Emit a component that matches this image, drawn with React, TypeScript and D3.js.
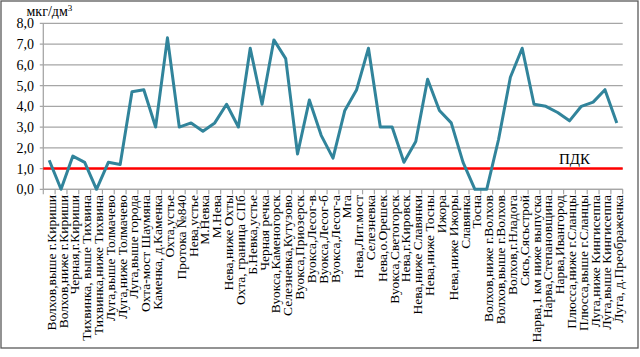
import React from 'react';
import * as d3 from 'd3';

const categories: string[] = [
  'Волхов,выше г.Кириши',
  'Волхов,ниже г.Кириши',
  'Черная,г.Кириши',
  'Тихвинка, выше Тихвина',
  'Тихвинка,ниже Тихвина',
  'Луга,выше Толмачево',
  'Луга,ниже Толмачево',
  'Луга,выше города',
  'Охта-мост Шаумяна',
  'Каменка, д.Каменка',
  'Охта,устье',
  'Протока №840',
  'Нева,устье',
  'М.Невка',
  'М.Нева',
  'Нева,ниже Охты',
  'Охта, граница СПб',
  'Б.Невка,устье',
  'Черная речка',
  'Вуокса,Каменогорск',
  'Селезневка,Кутузово',
  'Вуокса,Приозерск',
  'Вуокса,Лесог-в',
  'Вуокса,Лесог-б',
  'Вуокса,Лесог-а',
  'Мга',
  'Нева,Лит.мост',
  'Селезневка',
  'Нева,о.Орешек',
  'Вуокса,Светогорск',
  'Нева,г.Кировск',
  'Нева,ниже Славянки',
  'Нева,ниже Тосны',
  'Ижора',
  'Нева,ниже Ижоры',
  'Славянка',
  'Тосна',
  'Волхов,ниже г.Волхов',
  'Волхов,выше г.Волхов',
  'Волхов,г.Нладога',
  'Сясь,Сясьстрой',
  'Нарва,1 км ниже выпуска',
  'Нарва,Степановщина',
  'Нарва,Ивангород',
  'Плюсса,ниже г.Сланцы',
  'Плюсса,выше г.Сланцы',
  'Луга,ниже Кингисеппа',
  'Луга,выше Кингисеппа',
  'Луга, д.Преображенка',
];

const values: number[] = [
  1.4, 0, 1.6, 1.3, 0, 1.3, 1.2, 4.7, 4.8, 3.0,
  7.3, 3.0, 3.2, 2.8, 3.2, 4.1, 3.0, 6.8, 4.1, 7.2,
  6.3, 1.7, 4.3, 2.6, 1.5, 3.8, 4.8, 6.8, 3.0, 3.0,
  1.3, 2.3, 5.3, 3.8, 3.2, 1.3, 0, 0, 2.4, 5.4,
  6.8, 4.1, 4.0, 3.7, 3.3, 4.0, 4.2, 4.8, 3.2,
];

const yTicks: number[] = [0, 1, 2, 3, 4, 5, 6, 7, 8];
const pdkValue = 1.0;
const pdkLabel = 'ПДК';
const unitLabel = 'мкг/дм';

const FONT = '"Liberation Serif", "Times New Roman", serif';

export default function App() {
  const W = 640;
  const H = 357;
  const left = 43.3;
  const right = 622.7;
  const top = 23.3;
  const bottom = 189.3;

  const x = d3.scaleBand<string>().domain(categories).range([left, right]).padding(0);
  const y = d3.scaleLinear().domain([0, 8]).range([bottom, top]);
  const cx = (i: number) => (x(categories[i]) as number) + x.bandwidth() / 2;

  const line = d3
    .line<number>()
    .x((_, i) => cx(i))
    .y((d) => y(d));

  const fmt = (v: number) => d3.format('.1f')(v).replace('.', ',');

  const boundaries = d3.range(categories.length + 1).map((i) => left + i * x.bandwidth());

  return (
    <svg
      width={W}
      height={H}
      style={{ position: 'absolute', left: 0, top: 0, background: '#fff' }}
      fontFamily={FONT}
    >
      <rect x={0} y={0} width={W} height={H} fill="#fff" />
      <rect x={1} y={1} width={637} height={347} fill="none" stroke="#595959" strokeWidth={1.3} />

      {yTicks.map((t) => (
        <line
          key={'g' + t}
          x1={left - 3.5}
          x2={right}
          y1={y(t)}
          y2={y(t)}
          stroke="#a6a6a6"
          strokeWidth={1.3}
        />
      ))}

      <line x1={left} x2={left} y1={top} y2={bottom} stroke="#a6a6a6" strokeWidth={1.3} />
      {yTicks.map((t) => (
        <text
          key={'yl' + t}
          x={34}
          y={y(t) + 0.5}
          textAnchor="end"
          dominantBaseline="central"
          fontSize={14}
          fill="#000"
        >
          {fmt(t)}
        </text>
      ))}

      <text x={26.5} y={15.5} fontSize={14} fill="#000">
        {unitLabel}
        <tspan fontSize={9} dy={-5}>3</tspan>
      </text>

      <line x1={left} x2={right} y1={bottom} y2={bottom} stroke="#a6a6a6" strokeWidth={1.3} />
      {boundaries.map((bx, i) => (
        <line
          key={'xt' + i}
          x1={bx}
          x2={bx}
          y1={bottom}
          y2={bottom + 5}
          stroke="#a6a6a6"
          strokeWidth={1.2}
        />
      ))}
      {categories.map((c, i) => (
        <text
          key={'xl' + i}
          transform={`translate(${cx(i) + 6.5},195) rotate(-90)`}
          textAnchor="end"
          fontSize={13.5}
          fill="#000"
        >
          {c}
        </text>
      ))}

      <line
        x1={left}
        x2={right}
        y1={y(pdkValue)}
        y2={y(pdkValue)}
        stroke="#ff0000"
        strokeWidth={2.6}
      />
      <text x={559} y={164} fontSize={15} fill="#000">
        {pdkLabel}
      </text>

      <path
        d={line(values) || ''}
        fill="none"
        stroke="#31849b"
        strokeWidth={3}
        strokeLinejoin="round"
      />
    </svg>
  );
}
